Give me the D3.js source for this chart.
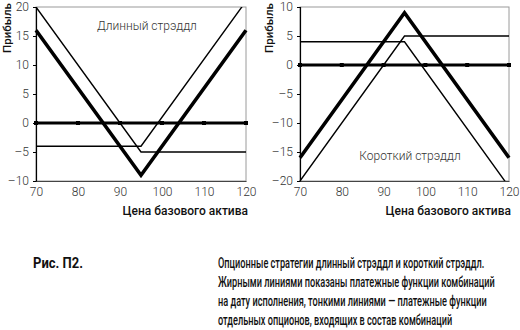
<!DOCTYPE html>
<html>
<head>
<meta charset="utf-8">
<script src="https://cdn.jsdelivr.net/npm/d3@7"></script>
<style>
  html, body { margin: 0; padding: 0; background: #fff; }
  svg { display: block; }
</style>
</head>
<body>
<svg id="fig" width="520" height="330"></svg>
<script>
// Underlying price at the kink points of the payoff profiles
const price = [70, 95, 120];

// Long straddle: bought put + bought call, strike 95
const longStraddle = [16, -9, 16];
const longPut = [20, -5, -5];
const longCall = [-4, -4, 21];

// Short straddle: written put + written call, strike 95
const shortStraddle = [-16, 9, -16];
const shortPut = [-20, 5, 5];
const shortCall = [4, 4, -21];

// Zero-profit reference series with point markers
const zeroPrice = [70, 80, 90, 100, 110, 120];
const zeroValue = [0, 0, 0, 0, 0, 0];

const xTicks = [70, 80, 90, 100, 110, 120];
const yTicksLong = [-10, -5, 0, 5, 10, 15, 20];
const yTicksShort = [-20, -15, -10, -5, 0, 5, 10];

const xTitle = "Цена базового актива";
const yTitle = "Прибыль";
const captionLabel = "Рис. П2.";
const captionLines = [
  "Опционные стратегии длинный стрэддл и короткий стрэддл.",
  "Жирными линиями показаны платежные функции комбинаций",
  "на дату исполнения, тонкими линиями — платежные функции",
  "отдельных опционов, входящих в состав комбинаций"
];

const svg = d3.select("#fig");
const tickFont = "Roboto, 'Open Sans', sans-serif";
const fmt = v => (v < 0 ? "\u2013" + Math.abs(v) : String(v));

function panel(opts) {
  const g = svg.append("g").attr("transform", `translate(${opts.left},${opts.top})`);
  const w = opts.width, h = opts.height;
  const x = d3.scaleLinear().domain([70, 120]).range([0, w]);
  const y = d3.scaleLinear().domain(opts.yDomain).range([h, 0]);

  // plot frame
  g.append("rect").attr("x", 0).attr("y", 0).attr("width", w).attr("height", h)
    .attr("fill", "none").attr("stroke", "#9a9a9a").attr("stroke-width", 1);

  const clipId = "clip-" + opts.id;
  g.append("clipPath").attr("id", clipId)
    .append("rect").attr("x", -2).attr("y", 0).attr("width", w + 4).attr("height", h);

  const plot = g.append("g").attr("clip-path", `url(#${clipId})`);
  const line = d3.line().x(d => x(d[0])).y(d => y(d[1]));

  // zero line with markers
  plot.append("path")
    .datum(zeroPrice.map((p, i) => [p, zeroValue[i]]))
    .attr("d", line).attr("fill", "none").attr("stroke", "#000").attr("stroke-width", 3.2);
  plot.selectAll("rect.mk").data(zeroPrice.map((p, i) => [p, zeroValue[i]])).join("rect")
    .attr("class", "mk")
    .attr("x", d => x(d[0]) - 2).attr("y", d => y(d[1]) - 2)
    .attr("width", 4).attr("height", 4).attr("fill", "#000");

  opts.thin.forEach(s => {
    plot.append("path").datum(price.map((p, i) => [p, s[i]]))
      .attr("d", line).attr("fill", "none").attr("stroke", "#000")
      .attr("stroke-width", 1.4).attr("stroke-linejoin", "miter");
  });
  plot.append("path").datum(price.map((p, i) => [p, opts.thick[i]]))
    .attr("d", line).attr("fill", "none").attr("stroke", "#000")
    .attr("stroke-width", 3.6).attr("stroke-linejoin", "miter");

  // axes
  const yAxis = d3.axisLeft(y).tickValues(opts.yTicks).tickSize(3).tickPadding(4).tickFormat(fmt);
  const ya = g.append("g").call(yAxis);
  ya.select(".domain").attr("stroke", "#000").attr("stroke-width", 1.2);
  ya.selectAll(".tick line").attr("stroke", "#000");
  ya.selectAll("text").attr("font-family", tickFont).attr("font-weight", 300)
    .attr("font-size", 12).attr("fill", "#333");

  const xAxis = d3.axisBottom(x).tickValues(xTicks).tickSize(0).tickPadding(6).tickFormat(fmt);
  const xa = g.append("g").attr("transform", `translate(0,${h})`).call(xAxis);
  xa.select(".domain").attr("stroke", "#444").attr("stroke-width", 1.2);
  xa.selectAll("text").attr("font-family", tickFont).attr("font-weight", 300)
    .attr("font-size", 12).attr("fill", "#333");

  // axis titles
  g.append("text").attr("x", w + 2).attr("y", h + 34).attr("text-anchor", "end")
    .attr("font-family", "Roboto, sans-serif").attr("font-weight", 500)
    .attr("font-size", 12).attr("fill", "#111").text(xTitle);
  g.append("text")
    .attr("transform", `translate(${-opts.left + opts.yTitleX},${opts.yTitleY - opts.top}) rotate(-90)`)
    .attr("text-anchor", "middle")
    .attr("font-family", "Roboto, sans-serif").attr("font-weight", 500)
    .attr("font-size", 11.5).attr("fill", "#111").text(yTitle);

  // panel label
  g.append("text").attr("x", x(opts.labelAt[0])).attr("y", y(opts.labelAt[1]))
    .attr("font-family", tickFont).attr("font-weight", 300)
    .attr("font-size", 12).attr("fill", "#333").text(opts.label);
}

panel({
  id: "long", left: 36, top: 7, width: 210, height: 174,
  yDomain: [-10, 20], yTicks: yTicksLong,
  thick: longStraddle, thin: [longPut, longCall],
  yTitleX: 10.5, yTitleY: 28,
  label: "Длинный стрэддл", labelAt: [84.5, 16.0]
});

panel({
  id: "short", left: 300, top: 7, width: 209, height: 174,
  yDomain: [-20, 10], yTicks: yTicksShort,
  thick: shortStraddle, thin: [shortPut, shortCall],
  yTitleX: 273, yTitleY: 28,
  label: "Короткий стрэддл", labelAt: [84.2, -16.4]
});

// caption: condensed setting, fitted so the widest line spans its column
const capFont = "Roboto, sans-serif";
const capLabel = svg.append("text").attr("font-family", capFont).attr("font-size", 14)
  .attr("font-weight", 700).attr("fill", "#111").text(captionLabel);
const body = svg.append("g").attr("font-family", capFont).attr("font-size", 14.5)
  .attr("font-weight", 500).attr("fill", "#111");
const lines = body.selectAll("text").data(captionLines).join("text")
  .attr("x", 0).attr("y", (d, i) => i * 19.3).text(d => d);
const widest = d3.max(lines.nodes(), n => n.getComputedTextLength());
body.attr("transform", `translate(218,267.5) scale(${277 / widest},1)`);
capLabel.attr("transform", `translate(33,267.5) scale(${50 / capLabel.node().getComputedTextLength()},1)`);
</script>
</body>
</html>
